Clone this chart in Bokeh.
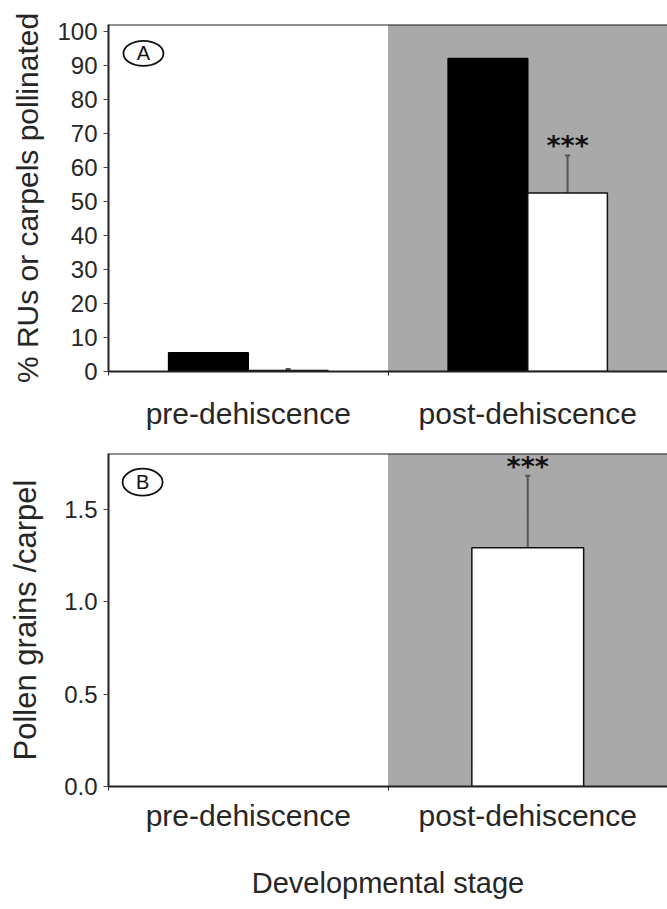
from bokeh.plotting import figure
from bokeh.models import (Range1d, FixedTicker, BoxAnnotation, Span, Whisker,
                          TeeHead, ColumnDataSource, NumeralTickFormatter)
from bokeh.layouts import column
from bokeh.embed import file_html
from bokeh.resources import INLINE
from bokeh.core.properties import value

# ---------------- data ----------------
categories = ["pre-dehiscence", "post-dehiscence"]
a_black = [5.5, 92.0]          # panel A, black bars
a_white = [0.3, 52.5]          # panel A, white bars
a_white_err = [0.4, 11.0]      # panel A, error of white bars
b_white = [0.0, 1.29]          # panel B, pollen grains / carpel
b_white_err = [0.0, 0.39]
a_yticks = [0, 10, 20, 30, 40, 50, 60, 70, 80, 90, 100]
b_yticks = [0.0, 0.5, 1.0, 1.5]
signif = ["", "***"]
panel_labels = ["A", "B"]

FONT = "Liberation Sans"
TXT = "#262626"
GRAY = "#a9a9a9"
X_END = 2.0
BW = 0.285   # bar width (panel A)

def base(height, y_end, b_top, b_bottom, x_standoff):
    p = figure(width=667, height=height, x_range=Range1d(0, X_END),
               y_range=Range1d(0, y_end), output_backend="svg",
               toolbar_location=None, min_border_left=108, min_border_right=0,
               min_border_top=b_top, min_border_bottom=b_bottom)
    p.outline_line_color = None
    p.grid.visible = False
    p.background_fill_color = "white"
    p.border_fill_color = "white"
    p.add_layout(BoxAnnotation(left=categories.index("post-dehiscence"), right=None,
                               fill_color=GRAY, fill_alpha=1, line_alpha=0,
                               level="underlay"))
    p.add_layout(Span(location=y_end, dimension="width", line_color="#222",
                      line_width=2))
    xa = p.xaxis[0]
    centers = [i + 0.5 for i in range(len(categories))]
    xa.ticker = FixedTicker(ticks=centers, minor_ticks=list(range(len(categories) + 1)))
    xa.major_label_overrides = {c: lab for c, lab in zip(centers, categories)}
    xa.major_tick_out = 0
    xa.major_tick_in = 0
    xa.minor_tick_out = 4
    xa.minor_tick_in = 0
    xa.minor_tick_line_color = "#222"
    xa.axis_line_width = 2
    xa.axis_line_color = "#222"
    xa.major_label_text_font = FONT
    xa.major_label_text_font_size = "30px"
    xa.major_label_text_color = TXT
    xa.major_label_standoff = x_standoff
    ya = p.yaxis[0]
    ya.axis_line_width = 2
    ya.axis_line_color = "#222"
    ya.major_tick_out = 5
    ya.major_tick_in = 0
    ya.minor_tick_out = 0
    ya.minor_tick_in = 0
    ya.major_tick_line_color = "#444"
    ya.major_label_text_font = FONT
    ya.major_label_text_font_size = "24px"
    ya.major_label_text_color = TXT
    ya.major_label_standoff = 6
    ya.axis_label_text_font = FONT
    ya.axis_label_text_font_style = "normal"
    ya.axis_label_text_color = TXT
    return p

# ---------------- panel A ----------------
pa = base(443, 102, 24, 72, 21)
pa.yaxis[0].ticker = FixedTicker(ticks=a_yticks)
pa.yaxis[0].axis_label = "% RUs or carpels pollinated"
pa.yaxis[0].axis_label_text_font_size = "30px"
pa.yaxis[0].axis_label_standoff = 10

xc = [i + 0.5 for i in range(len(categories))]
src_a = ColumnDataSource(dict(
    xb=[x - BW / 2 for x in xc], xw=[x + BW / 2 for x in xc],
    black=a_black, white=a_white,
    up=[v + e for v, e in zip(a_white, a_white_err)],
    lo=[v - e for v, e in zip(a_white, a_white_err)],
    sig=signif))
pa.vbar(x="xb", top="black", width=BW, bottom=0, source=src_a,
        fill_color="black", line_color="black", line_width=1.5)
pa.vbar(x="xw", top="white", width=BW, bottom=0, source=src_a,
        fill_color="white", line_color="#111", line_width=1.5)
pa.add_layout(Whisker(base="xw", upper="up", lower="lo", source=src_a,
                      line_color="#555", line_width=2,
                      upper_head=TeeHead(size=5, line_color="#555", line_width=2),
                      lower_head=TeeHead(size=5, line_color="#555", line_width=2)))
pa.text(x="xw", y="up", text="sig", source=src_a, text_font=value("DejaVu Sans"),
        text_font_style="bold", text_font_size="27px", text_align="center",
        text_baseline="alphabetic", text_color="#111", y_offset=-10)
pa.ellipse(x=[0.125], y=[93.5], width=40, height=25, width_units="screen",
           height_units="screen", fill_color=None, line_color="#111", line_width=1.8)
pa.text(x=[0.125], y=[93.5], text=[panel_labels[0]], text_font=value(FONT),
        text_font_size="20px", text_align="center",
        text_baseline="middle", text_color="#111")

# ---------------- panel B ----------------
pb = base(458, 1.8, 10, 111, 8)
pb.yaxis[0].ticker = FixedTicker(ticks=b_yticks)
pb.yaxis[0].formatter = NumeralTickFormatter(format="0.0")
pb.yaxis[0].axis_label = "Pollen grains /carpel"
pb.yaxis[0].axis_label_text_font_size = "31px"
pb.yaxis[0].axis_label_standoff = 18
pb.xaxis[0].axis_label = "Developmental stage"
pb.xaxis[0].axis_label_text_font = FONT
pb.xaxis[0].axis_label_text_font_size = "29px"
pb.xaxis[0].axis_label_text_font_style = "normal"
pb.xaxis[0].axis_label_text_color = TXT
pb.xaxis[0].axis_label_standoff = 32

BWB = 0.4
src_b_nz = ColumnDataSource(dict(
    x=[x for x, v in zip(xc, b_white) if v > 0],
    v=[v for v in b_white if v > 0],
    up=[v + e for v, e in zip(b_white, b_white_err) if v > 0],
    lo=[v - e for v, e in zip(b_white, b_white_err) if v > 0],
    sig=[s for s, v in zip(signif, b_white) if v > 0]))
pb.vbar(x="x", top="v", width=BWB, bottom=0, source=src_b_nz,
        fill_color="white", line_color="#111", line_width=1.5)
pb.add_layout(Whisker(base="x", upper="up", lower="lo", source=src_b_nz,
                      line_color="#555", line_width=2,
                      upper_head=TeeHead(size=5, line_color="#555", line_width=2),
                      lower_head=TeeHead(size=5, line_color="#555", line_width=2)))
pb.text(x="x", y="up", text="sig", source=src_b_nz, text_font=value("DejaVu Sans"),
        text_font_style="bold", text_font_size="27px", text_align="center",
        text_baseline="alphabetic", text_color="#111", y_offset=-9)
pb.ellipse(x=[0.122], y=[1.645], width=40, height=27, width_units="screen",
           height_units="screen", fill_color=None, line_color="#111", line_width=1.8)
pb.text(x=[0.122], y=[1.645], text=[panel_labels[1]], text_font=value(FONT),
        text_font_size="20px", text_align="center",
        text_baseline="middle", text_color="#111")

layout = column(pa, pb, spacing=0)
open("out.html", "w").write(file_html(layout, INLINE))
